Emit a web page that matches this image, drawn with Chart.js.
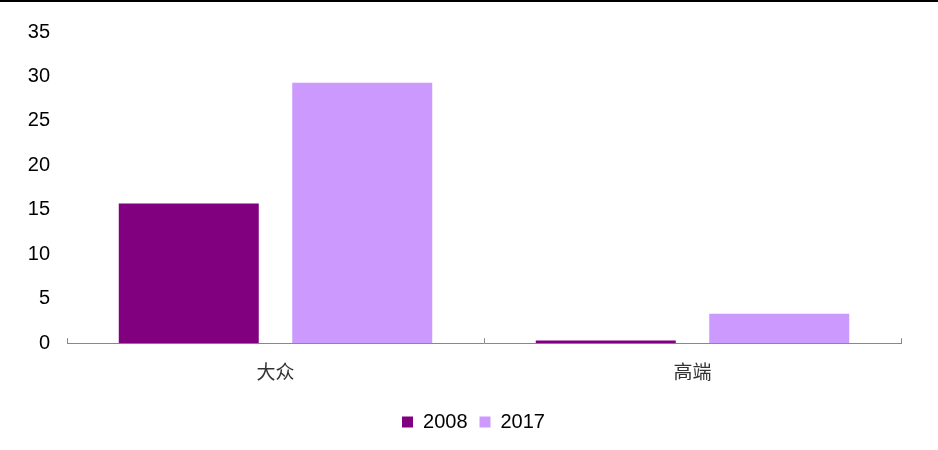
<!DOCTYPE html>
<html>
<head>
<meta charset="utf-8">
<script src="https://cdn.jsdelivr.net/npm/chart.js@4"></script>
<style>
    html, body { margin: 0; padding: 0; background: #fff; }
    #wrap { position: relative; width: 938px; height: 450px; }
    #topline { position: absolute; left: 0; top: 0; width: 938px; height: 2px; background: #000; }
    canvas { display: block; }
</style>
</head>
<body>
<div id="wrap">
    <canvas id="grafico" width="938" height="450"></canvas>
    <div id="topline"></div>
</div>
<script>
const categorias = ['大众', '高端'];
const serie2008 = [15.7, 0.3];
const serie2017 = [29.3, 3.3];
const ticksY = [0, 5, 10, 15, 20, 25, 30, 35];

// marcas de divisão do eixo x (para cima, como no original)
const marcasEixo = {
    id: 'marcasEixo',
    afterLayout(chart) {
        // legenda fica um pouco à direita do centro no original
        chart.legend.left += 23;
        chart.legend.right += 23;
    },
    afterDraw(chart) {
        const x = chart.scales.x;
        const ctx = chart.ctx;
        const larg = (x.right - x.left) / categorias.length;
        ctx.save();
        ctx.strokeStyle = '#888888';
        ctx.lineWidth = 1;
        ctx.beginPath();
        for (let i = 0; i <= categorias.length; i++) {
            const px = Math.round(x.left + i * larg) + 0.5;
            ctx.moveTo(px, x.top);
            ctx.lineTo(px, x.top - 5);
        }
        ctx.stroke();
        ctx.restore();
    }
};

new Chart(document.getElementById('grafico'), {
    type: 'bar',
    data: {
        labels: categorias,
        datasets: [
            { label: '2008', data: serie2008, backgroundColor: '#800080' },
            { label: '2017', data: serie2017, backgroundColor: '#CC99FF' }
        ]
    },
    options: {
        responsive: false,
        animation: false,
        categoryPercentage: 0.832,
        barPercentage: 0.807,
        layout: { padding: { top: 32, right: 37, bottom: 8, left: 0 } },
        plugins: {
            tooltip: { enabled: false },
            legend: {
                position: 'bottom',
                labels: {
                    boxWidth: 11,
                    boxHeight: 11,
                    padding: 12,
                    color: '#000',
                    font: { family: 'Liberation Sans, Arial', size: 20 }
                }
            }
        },
        scales: {
            x: {
                grid: { display: false, drawTicks: false },
                border: { display: true, color: '#888888', width: 1 },
                ticks: {
                    padding: 17,
                    color: '#333',
                    font: { family: 'Noto Sans CJK SC', size: 19 }
                }
            },
            y: {
                min: 0,
                max: 35,
                afterFit(scale) { scale.width = 67; },
                afterBuildTicks(scale) { scale.ticks = ticksY.map(v => ({ value: v })); },
                grid: { display: false, drawTicks: false },
                border: { display: false },
                ticks: {
                    padding: 17,
                    color: '#000',
                    font: { family: 'Liberation Sans, Arial', size: 20 }
                }
            }
        }
    },
    plugins: [marcasEixo]
});
</script>
</body>
</html>
